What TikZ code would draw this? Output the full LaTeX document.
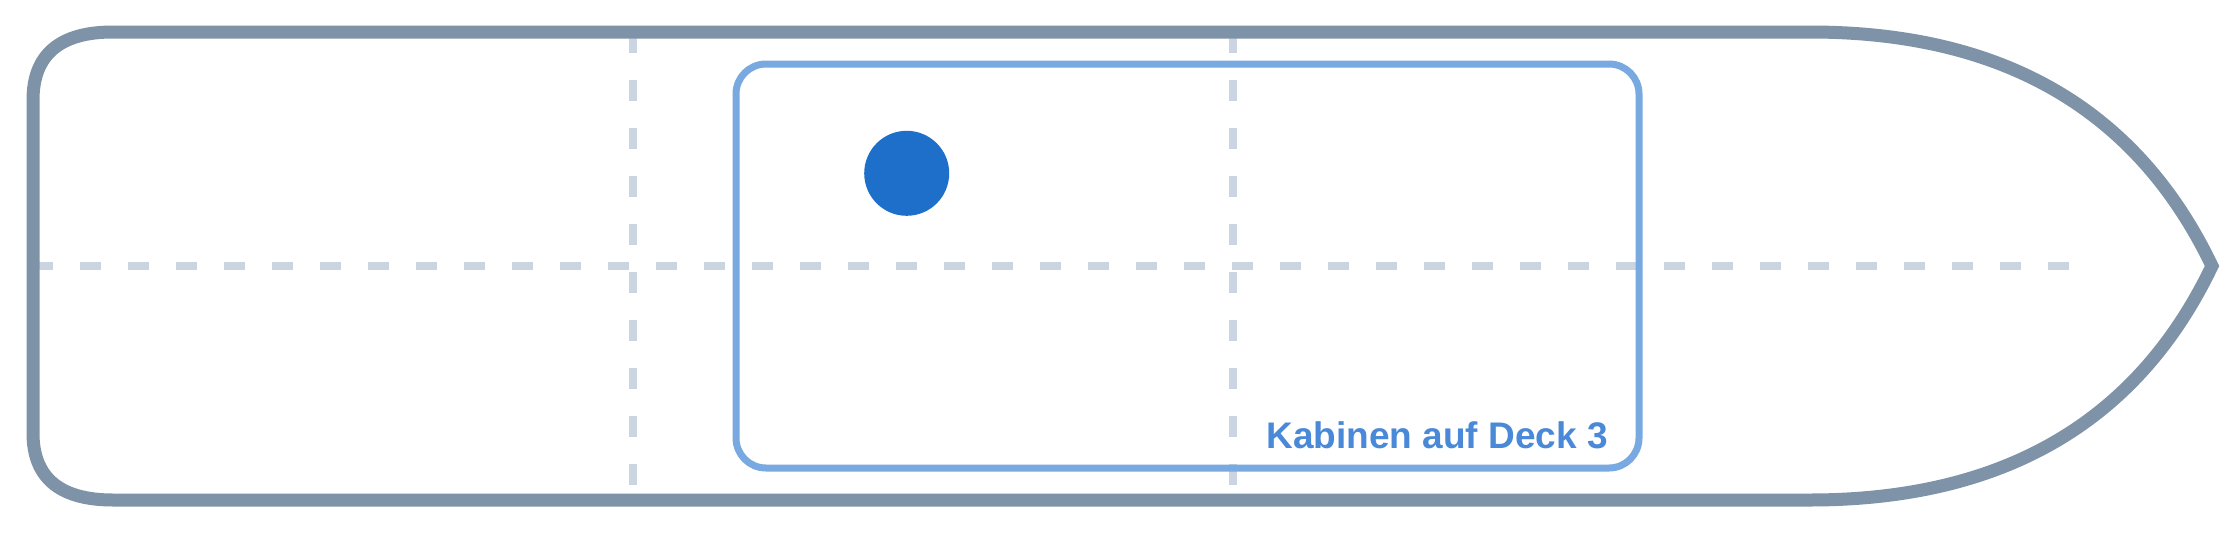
\documentclass[tikz,border=0pt]{standalone}
\usepackage{fontspec}
\setmainfont{Liberation Sans}
\definecolor{hullc}{HTML}{7F93A8}
\definecolor{gridc}{HTML}{CBD5E1}
\definecolor{cabinc}{HTML}{78A9E0}
\definecolor{dotc}{HTML}{1D6FCA}
\definecolor{labelc}{HTML}{4A89D8}
\tikzset{
  hull/.style={draw=hullc, line width=13pt, line join=miter, miter limit=10},
  gridline/.style={draw=gridc, line width=7.5pt, dash pattern=on 21pt off 27pt},
  cabin/.style={draw=cabinc, line width=7pt, rounded corners=30pt},
  marker/.style={circle, fill=dotc, draw=none, minimum size=85pt, inner sep=0pt},
  decklabel/.style={text=labelc, inner sep=0pt, font=\fontsize{37}{44}\selectfont\bfseries}
}
\begin{document}
\begin{tikzpicture}[x=1pt,y=-1pt]
\useasboundingbox[fill=white] (0,0) rectangle (2240,533);
% grid lines
\coordinate (hl) at (32,266);
\coordinate (hr) at (2072,266);
\coordinate (v1t) at (633,32);
\coordinate (v1b) at (633,500);
\coordinate (v2t) at (1233,32);
\coordinate (v2b) at (1233,500);
\draw[gridline] (hl) -- (hr);
\draw[gridline] (v1t) -- (v1b);
\draw[gridline] (v2t) -- (v2b);
% hull
\draw[hull] (113,32) -- (1810,32)
  .. controls (2003.3,32) and (2137.3,110) .. (2212,266)
  .. controls (2137.3,422) and (2003.3,500) .. (1810,500) -- (113,500)
  .. controls (59.7,500) and (33,477.7) .. (33,433) -- (33,100)
  .. controls (33,54.7) and (59.7,32) .. cycle;
% cabin area
\draw[cabin] (736,64) rectangle (1639,468);
% marker
\node[marker] (dot) at (906.7,173.3) {};
% label
\node[decklabel, anchor=base east] (lbl) at (1608,448) {Kabinen auf Deck 3};
\end{tikzpicture}
\end{document}
